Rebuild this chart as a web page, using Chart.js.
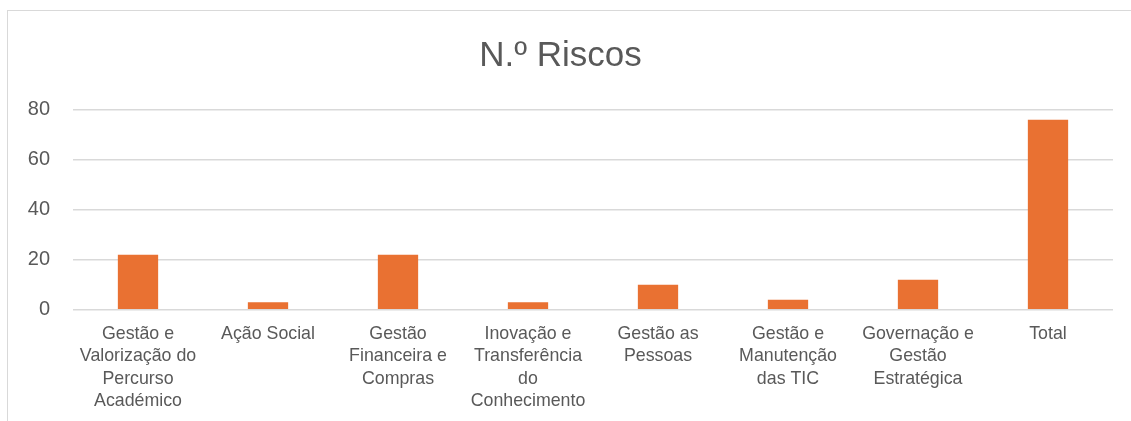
<!DOCTYPE html>
<html>
<head>
<meta charset="utf-8">
<script src="https://cdn.jsdelivr.net/npm/chart.js@4/dist/chart.umd.min.js"></script>
<style>
  html, body { margin: 0; padding: 0; background: #fff; overflow: hidden; width: 1131px; height: 421px; }
  #wrap { position: absolute; left: 8px; top: 10px; width: 1136px; height: 430px; }
  #frame { position: absolute; left: 7px; top: 10px; width: 1200px; height: 500px;
           border-left: 1.5px solid #D9D9D9; border-top: 1.5px solid #D9D9D9; pointer-events: none; }
</style>
</head>
<body>
<div id="frame"></div>
<div id="wrap"><canvas id="c" width="1136" height="430"></canvas></div>
<script>
const categories = [
  ["Gestão e", "Valorização do", "Percurso", "Académico"],
  ["Ação Social"],
  ["Gestão", "Financeira e", "Compras"],
  ["Inovação e", "Transferência", "do", "Conhecimento"],
  ["Gestão as", "Pessoas"],
  ["Gestão e", "Manutenção", "das TIC"],
  ["Governação e", "Gestão", "Estratégica"],
  ["Total"]
];
const riscos = [22, 3, 22, 3, 10, 4, 12, 76];
const yTicks = [0, 20, 40, 60, 80];
const chartTitle = "N.º Riscos";

const textColor = "#595959";
const fontFamily = "'Liberation Sans', Arial, sans-serif";

new Chart(document.getElementById("c"), {
  type: "bar",
  data: {
    labels: categories,
    datasets: [{
      data: riscos,
      backgroundColor: "#E97132",
      barPercentage: 0.31,
      categoryPercentage: 1.0
    }]
  },
  options: {
    responsive: false,
    animation: false,
    layout: { padding: { left: 0, right: 31, top: 0, bottom: 10.3 } },
    plugins: {
      legend: { display: false },
      tooltip: { enabled: false },
      title: {
        display: true,
        text: chartTitle,
        color: textColor,
        font: { family: fontFamily, size: 35, weight: "normal", lineHeight: 1.2 },
        padding: { top: 25, bottom: 32.7 }
      }
    },
    scales: {
      x: {
        grid: { display: false, drawTicks: false },
        border: { display: false },
        ticks: {
          color: textColor,
          font: { family: fontFamily, size: 17.8, lineHeight: 1.264 },
          padding: 13,
          maxRotation: 0,
          autoSkip: false
        },
        afterFit: (s) => { s.height = 120; }
      },
      y: {
        min: yTicks[0],
        max: yTicks[yTicks.length - 1],
        afterBuildTicks: (s) => { s.ticks = yTicks.map(v => ({ value: v })); },
        grid: { color: "#D9D9D9", lineWidth: 1.5, drawTicks: false },
        border: { display: false },
        ticks: {
          color: textColor,
          font: { family: fontFamily, size: 20 },
          padding: 23
        },
        afterFit: (s) => { s.width = 65; }
      }
    }
  }
});
</script>
</body>
</html>
